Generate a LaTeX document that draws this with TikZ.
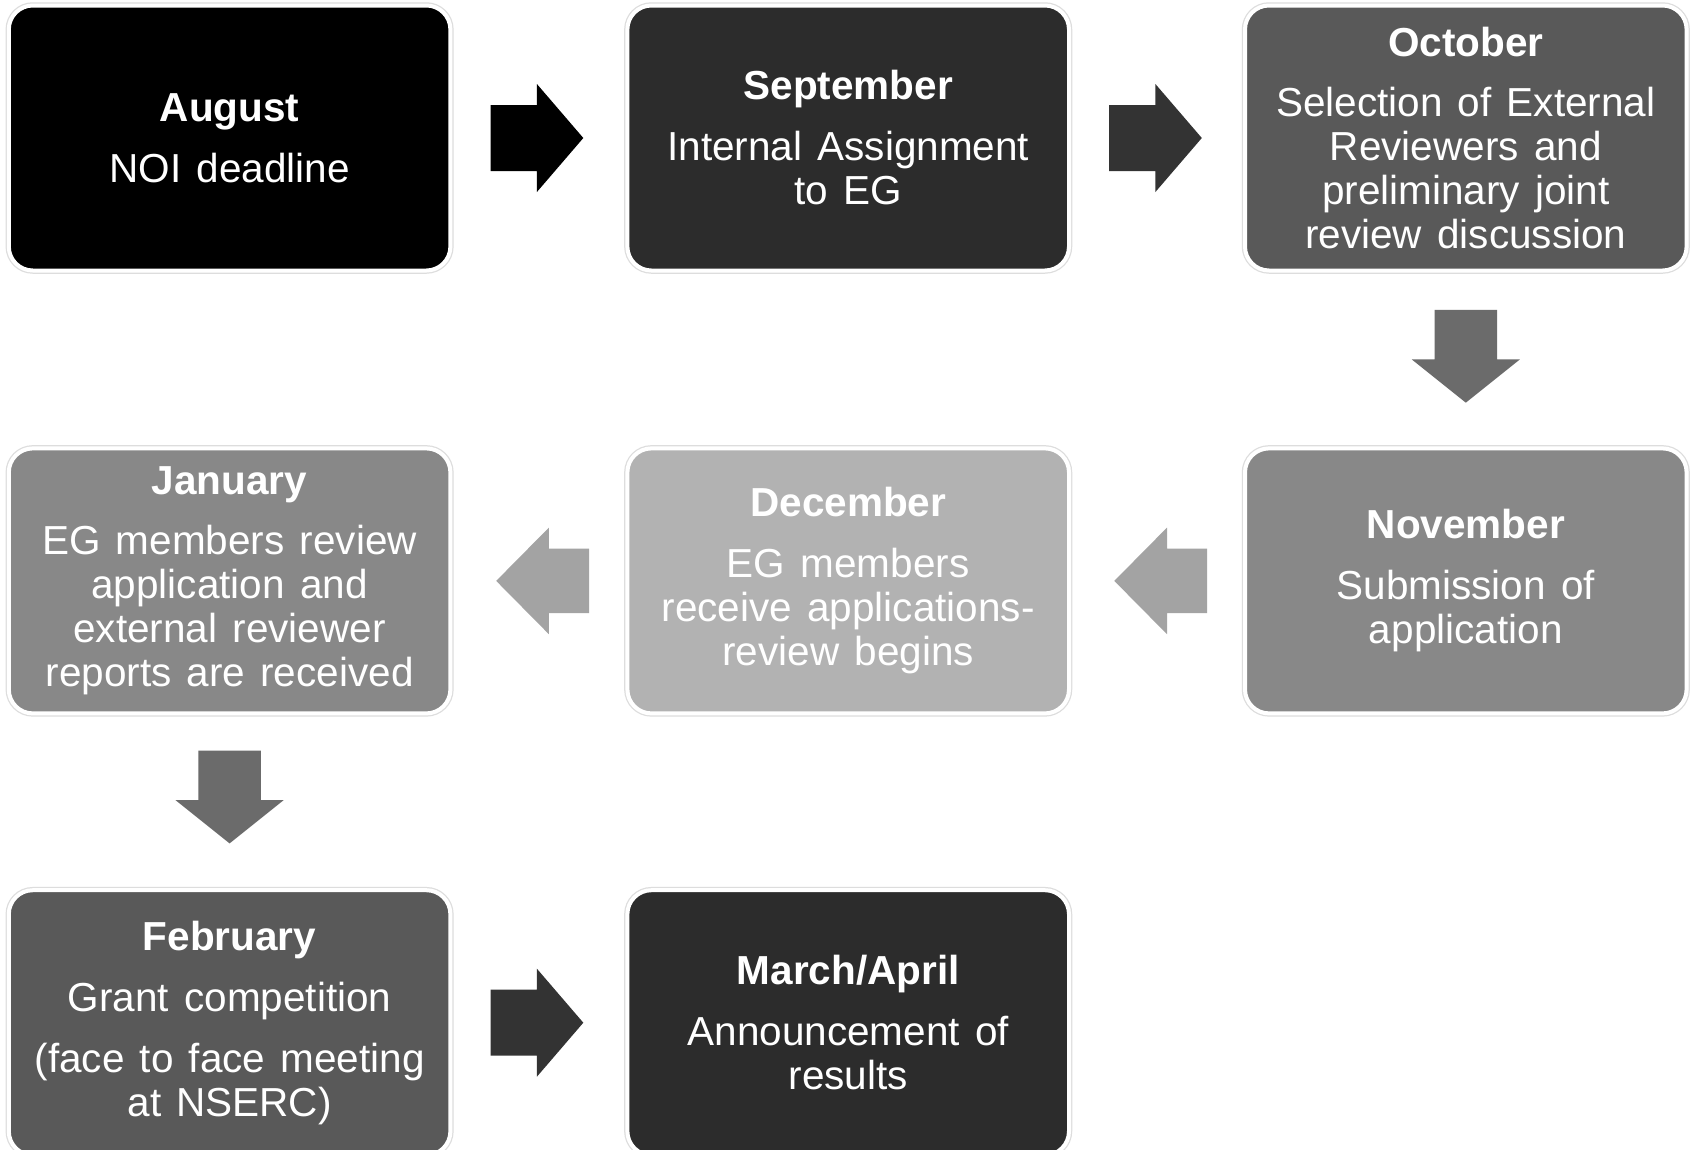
\documentclass[tikz,border=0pt]{standalone}
\usepackage{fontspec}
\setmainfont{Liberation Sans}[WordSpace=1.35]
\usetikzlibrary{calc}
\definecolor{cAug}{HTML}{000000}
\definecolor{cSep}{HTML}{2C2C2C}
\definecolor{cOct}{HTML}{595959}
\definecolor{cNov}{HTML}{888888}
\definecolor{cDec}{HTML}{B2B2B2}
\definecolor{cHalo}{HTML}{DDDDDD}
\definecolor{aBlack}{HTML}{000000}
\definecolor{aDark}{HTML}{333333}
\definecolor{aMid}{HTML}{6B6B6B}
\definecolor{aLight}{HTML}{A3A3A3}
\begin{document}
\begin{tikzpicture}[x=1pt,y=-1pt,
  box/.style={rounded corners=24pt, minimum width=441.6pt, minimum height=265pt,
    inner sep=0pt, text=white, align=center,
    font=\fontsize{40.5}{44}\selectfont,
    draw=white, line width=4pt,
    preaction={draw=cHalo, line width=6.5pt}},
  rarrow/.pic={\path[pic actions] (-46.4,-33) -- (0,-33) -- (0,-54) -- (46.4,0) -- (0,54) -- (0,33) -- (-46.4,33) -- cycle;},
  larrow/.pic={\path[pic actions] (-46.4,0) -- (6.3,-53.3) -- (6.3,-32.3) -- (46.4,-32.3) -- (46.4,32.3) -- (6.3,32.3) -- (6.3,53.3) -- cycle;},
  darrow/.pic={\path[pic actions] (-31.2,-46.4) -- (31.2,-46.4) -- (31.2,3.2) -- (54,3.2) -- (0,46.4) -- (-54,3.2) -- (-31.2,3.2) -- cycle;},
]
\useasboundingbox[fill=white] (0,0) rectangle (1690,1149);

\node[box, fill=cAug] (aug) at (229.6,138) {\textbf{August}\\[17pt]NOI deadline};
\node[box, fill=cSep] (sep) at (848.2,138) {\textbf{September}\\[17pt]Internal Assignment\\to EG};
\node[box, fill=cOct] (oct) at (1465.8,138) {\textbf{October}\\[16pt]Selection of External\\Reviewers and\\preliminary joint\\review discussion};
\node[box, fill=cNov] (nov) at (1465.8,580.9) {\textbf{November}\\[17pt]Submission of\\application};
\node[box, fill=cDec] (dec) at (848.2,580.9) {\textbf{December}\\[17pt]EG members\\receive applications-\\review begins};
\node[box, fill=cNov] (jan) at (229.6,580.9) {\textbf{January}\\[16pt]EG members review\\application and\\external reviewer\\reports are received};
\node[box, fill=cOct] (feb) at (229.6,1022.7) {\textbf{February}\\[17pt]Grant competition\\[17pt](face to face meeting\\at NSERC)};
\node[box, fill=cSep] (mar) at (848.2,1022.7) {\textbf{March/April}\\[17pt]Announcement of\\results};

\pic[fill=aBlack] at ($(aug.east)!0.5!(sep.west)+(-2,0)$) {rarrow};
\pic[fill=aDark] at ($(sep.east)!0.5!(oct.west)+(-1.6,0)$) {rarrow};
\pic[fill=aMid] at ($(oct.south)!0.5!(nov.north)+(0,-3.2)$) {darrow};
\pic[fill=aLight] at ($(nov.west)!0.5!(dec.east)+(3.7,0)$) {larrow};
\pic[fill=aLight] at ($(dec.west)!0.5!(jan.east)+(3.7,0)$) {larrow};
\pic[fill=aMid] at ($(jan.south)!0.5!(feb.north)+(0,-4.8)$) {darrow};
\pic[fill=aDark] at ($(feb.east)!0.5!(mar.west)+(-2,0)$) {rarrow};
\end{tikzpicture}
\end{document}
